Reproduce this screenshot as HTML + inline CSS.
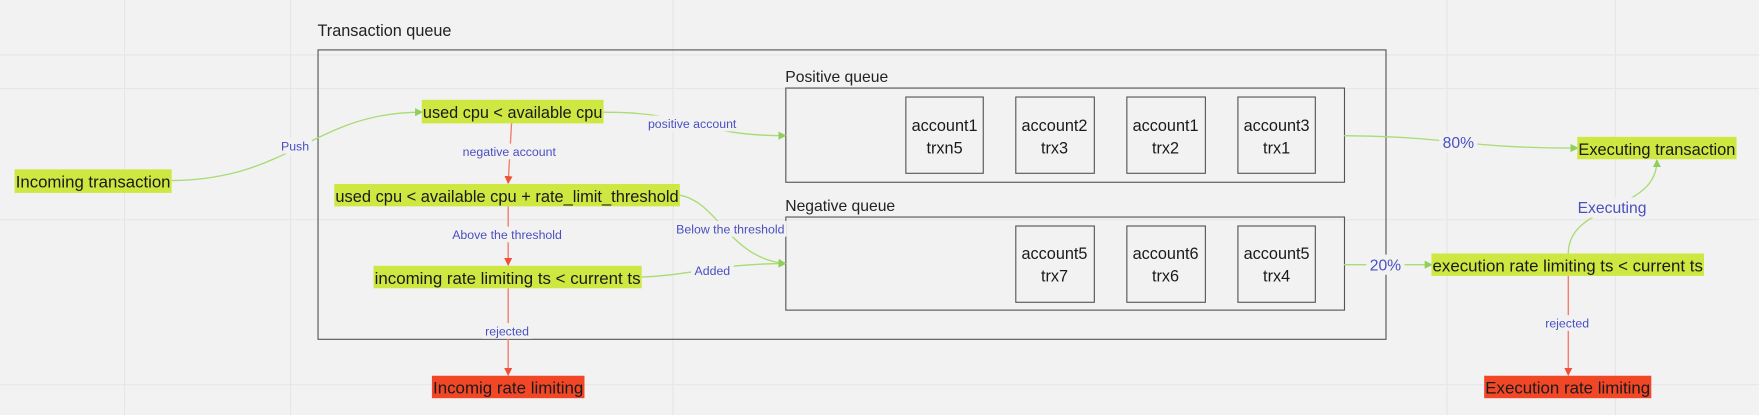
<!DOCTYPE html>
<html><head><meta charset="utf-8"><style>
html,body{margin:0;padding:0;background:#f2f2f2;}
svg{display:block;}
text{font-family:"Liberation Sans","DejaVu Sans",sans-serif;}
.n{font-size:14.5px;fill:#1a1a1a;}
.l{font-size:11px;fill:#4a50c0;}
.lb{font-size:14px;fill:#4a50c0;}
.box{fill:none;stroke:#555;stroke-width:1;}
.g{fill:none;stroke:#a9dc72;stroke-width:1.2;}
.r{fill:none;stroke:#f27a6a;stroke-width:1.2;}
</style></head><body>
<svg width="1759" height="415" viewBox="0 0 1568 370" preserveAspectRatio="none" xmlns="http://www.w3.org/2000/svg">
<defs>
<marker id="ag" markerWidth="6" markerHeight="6" refX="5" refY="3" orient="auto"><path d="M0,0 L6,3 L0,6z" fill="#8ed05a"/></marker>
<marker id="ar" markerWidth="6" markerHeight="6" refX="5" refY="3" orient="auto"><path d="M0,0 L6,3 L0,6z" fill="#f0503a"/></marker>
</defs>
<rect width="1568" height="370" fill="#f2f2f2"/>
<g stroke="#e6e6e6" stroke-width="1">
<line x1="0" y1="49" x2="1568" y2="49"/><line x1="0" y1="79" x2="1568" y2="79"/>
<line x1="0" y1="196" x2="1568" y2="196"/><line x1="0" y1="343" x2="1568" y2="343"/>
<line x1="111" y1="0" x2="111" y2="370"/><line x1="259" y1="0" x2="259" y2="370"/>
<line x1="600" y1="0" x2="600" y2="370"/><line x1="1290" y1="0" x2="1290" y2="370"/><line x1="1440" y1="0" x2="1440" y2="370"/>
</g>
<text x="283" y="32" style="font-size:14.5px;fill:#222">Transaction queue</text>
<rect x="283.5" y="44.5" width="952" height="258" class="box" stroke="#666"/>
<text x="700" y="73" style="font-size:14px;fill:#222">Positive queue</text>
<rect x="700.5" y="78.5" width="498" height="84" class="box"/>
<text x="700" y="188" style="font-size:14px;fill:#222">Negative queue</text>
<rect x="700.5" y="193.5" width="498" height="83" class="box"/>
<g class="n" text-anchor="middle">
<rect x="807.5" y="86.5" width="69" height="68" class="box"/><text x="842" y="117">account1</text><text x="842" y="137">trxn5</text>
<rect x="905.5" y="86.5" width="70" height="68" class="box"/><text x="940" y="117">account2</text><text x="940" y="137">trx3</text>
<rect x="1004.5" y="86.5" width="70" height="68" class="box"/><text x="1039" y="117">account1</text><text x="1039" y="137">trx2</text>
<rect x="1103.5" y="86.5" width="69" height="68" class="box"/><text x="1138" y="117">account3</text><text x="1138" y="137">trx1</text>
<rect x="905.5" y="201.5" width="70" height="68" class="box"/><text x="940" y="231">account5</text><text x="940" y="251">trx7</text>
<rect x="1004.5" y="201.5" width="70" height="68" class="box"/><text x="1039" y="231">account6</text><text x="1039" y="251">trx6</text>
<rect x="1103.5" y="201.5" width="69" height="68" class="box"/><text x="1138" y="231">account5</text><text x="1138" y="251">trx4</text>
</g>
<!-- connectors -->
<path class="g" d="M153,161 C260,160 280,100 376,100" marker-end="url(#ag)"/>
<path class="g" d="M538,100 C620,100 620,121 700,121" marker-end="url(#ag)"/>
<path class="r" d="M456,110 L453,163" marker-end="url(#ar)"/>
<path class="r" d="M453,184 L453,236" marker-end="url(#ar)"/>
<path class="g" d="M606,174 C640,180 650,230 700,235" marker-end="url(#ag)"/>
<path class="g" d="M572,247 C620,245 640,235 700,235" marker-end="url(#ag)"/>
<path class="r" d="M453,257 L453,334" marker-end="url(#ar)"/>
<path class="g" d="M1198,121 C1300,122 1300,132 1406,132" marker-end="url(#ag)"/>
<path class="g" d="M1198,236 L1276,236" marker-end="url(#ag)"/>
<path class="g" d="M1398,226 C1398,180 1477,190 1477,143" marker-end="url(#ag)"/>
<path class="r" d="M1398,246 L1398,334" marker-end="url(#ar)"/>
<!-- labels -->
<g text-anchor="middle">
<rect x="248" y="123" width="30" height="14" fill="#f2f2f2"/><text x="263" y="134" class="l">Push</text>
<rect x="577" y="103" width="82" height="14" fill="#f2f2f2"/><text x="617" y="114" class="l">positive account</text>
<rect x="410" y="128" width="88" height="14" fill="#f2f2f2"/><text x="454" y="139" class="l">negative account</text>
<rect x="400" y="202" width="104" height="14" fill="#f2f2f2"/><text x="452" y="213" class="l">Above the threshold</text>
<rect x="601" y="197" width="100" height="14" fill="#f2f2f2"/><text x="651" y="208" class="l">Below the threshold</text>
<rect x="616" y="234" width="38" height="14" fill="#f2f2f2"/><text x="635" y="245" class="l">Added</text>
<rect x="430" y="288" width="44" height="14" fill="#f2f2f2"/><text x="452" y="299" class="l">rejected</text>
<rect x="1376" y="281" width="44" height="14" fill="#f2f2f2"/><text x="1397" y="292" class="l">rejected</text>
<rect x="1283" y="118" width="34" height="18" fill="#f2f2f2"/><text x="1300" y="132" class="lb">80%</text>
<rect x="1218" y="227" width="34" height="18" fill="#f2f2f2"/><text x="1235" y="241" class="lb">20%</text>
<rect x="1402" y="176" width="70" height="18" fill="#f2f2f2"/><text x="1437" y="190" class="lb">Executing</text>
</g>
<!-- nodes -->
<g class="n">
<rect x="13" y="151" width="140" height="21" fill="#cee741"/><text x="14" y="167" textLength="138" lengthAdjust="spacingAndGlyphs">Incoming transaction</text>
<rect x="376" y="89" width="162" height="21" fill="#cee741"/><text x="377" y="105" textLength="160" lengthAdjust="spacingAndGlyphs">used cpu &lt; available cpu</text>
<rect x="298" y="164" width="308" height="20" fill="#cee741"/><text x="299" y="180" textLength="306" lengthAdjust="spacingAndGlyphs">used cpu &lt; available cpu + rate_limit_threshold</text>
<rect x="333" y="237" width="239" height="20" fill="#cee741"/><text x="334" y="253" textLength="237" lengthAdjust="spacingAndGlyphs">incoming rate limiting ts &lt; current ts</text>
<rect x="1406" y="122" width="142" height="20" fill="#cee741"/><text x="1407" y="138" textLength="140" lengthAdjust="spacingAndGlyphs">Executing transaction</text>
<rect x="1276" y="226" width="243" height="20" fill="#cee741"/><text x="1277" y="242" textLength="241" lengthAdjust="spacingAndGlyphs">execution rate limiting ts &lt; current ts</text>
<rect x="385" y="335" width="136" height="20" fill="#f24726"/><text x="386" y="351" textLength="134" lengthAdjust="spacingAndGlyphs">Incomig rate limiting</text>
<rect x="1323" y="335" width="149" height="20" fill="#f24726"/><text x="1324" y="351" textLength="147" lengthAdjust="spacingAndGlyphs">Execution rate limiting</text>
</g>
</svg>
</body></html>
